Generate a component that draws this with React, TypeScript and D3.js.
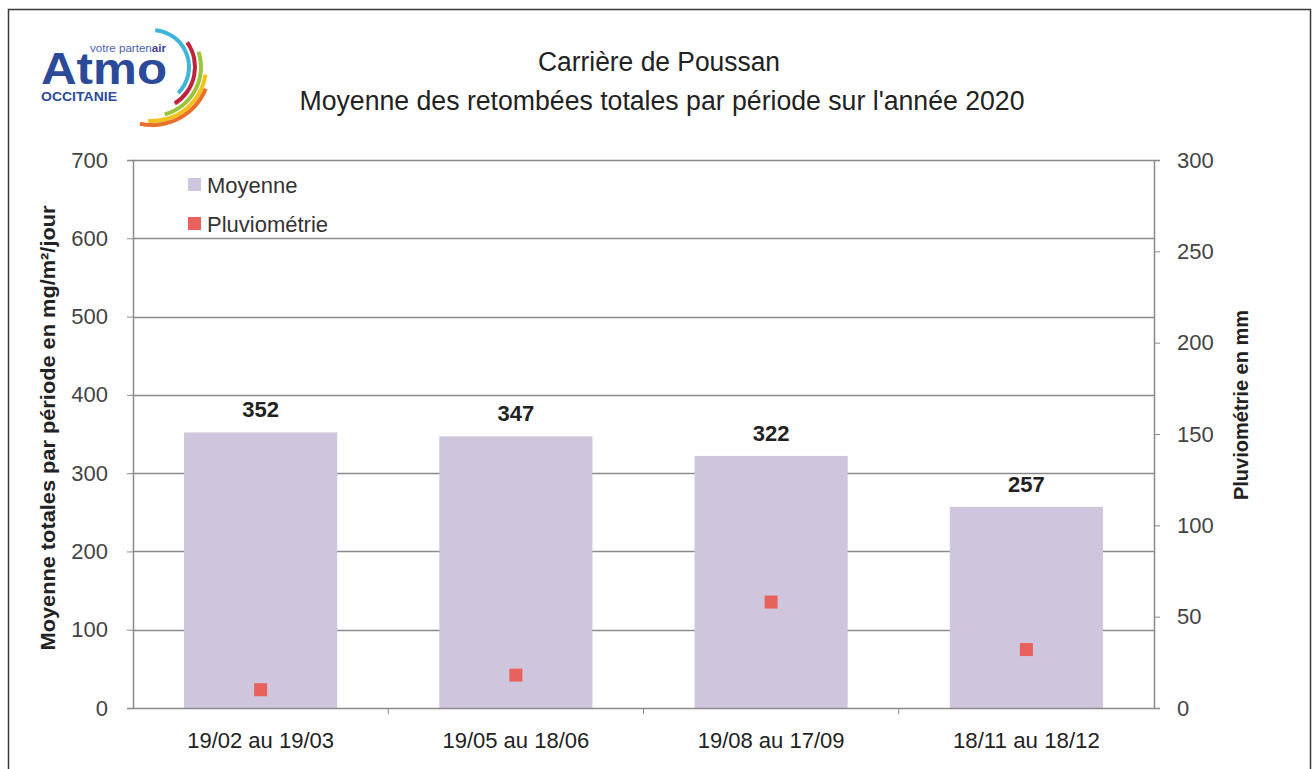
import React, { useEffect, useRef } from 'react';
import * as d3 from 'd3';

const periods = ['19/02 au 19/03', '19/05 au 18/06', '19/08 au 17/09', '18/11 au 18/12'];
const moyenne = [352, 347, 322, 257];
const pluvio = [10, 18, 58, 32];
const leftTicks = [0, 100, 200, 300, 400, 500, 600, 700];
const rightTicks = [0, 50, 100, 150, 200, 250, 300];

const W = 1314;
const H = 769;
const FONT = '"Liberation Sans", Arial, sans-serif';
const BAR_COLOR = '#cfc5dc';
const PLUVIO_COLOR = '#e9615c';

export default function App() {
  const ref = useRef<SVGSVGElement>(null);

  useEffect(() => {
    const svg = d3.select(ref.current);
    svg.selectAll('*').remove();

    const margin = { left: 133, right: 160, top: 160, bottom: 61 };
    const innerW = W - margin.left - margin.right;
    const innerH = H - margin.top - margin.bottom;

    // outer frame
    svg.append('rect').attr('width', W).attr('height', H).attr('fill', '#fff');
    svg.append('path')
      .attr('d', `M8.5,${H} V9.5 H1310.5 V${H}`)
      .attr('fill', 'none').attr('stroke', '#3a3a3a').attr('stroke-width', 1.5);

    // logo
    const logo = svg.append('g');
    logo.append('text').attr('x', 41).attr('y', 84).text('Atmo')
      .attr('font-family', FONT).attr('font-weight', 'bold').attr('font-size', 45)
      .attr('fill', '#2b4a9a').attr('textLength', 126).attr('lengthAdjust', 'spacingAndGlyphs');
    const tag = logo.append('text').attr('x', 90).attr('y', 52)
      .attr('font-family', FONT).attr('font-size', 10).attr('fill', '#4a63b0')
      .attr('textLength', 76).attr('lengthAdjust', 'spacingAndGlyphs');
    tag.append('tspan').text('votre parten');
    tag.append('tspan').attr('font-weight', 'bold').attr('fill', '#3b3f9a').text('air');
    logo.append('text').attr('x', 41).attr('y', 101).text('OCCITANIE')
      .attr('font-family', FONT).attr('font-weight', 'bold').attr('font-size', 13).attr('fill', '#2b4a9a')
      .attr('textLength', 76).attr('lengthAdjust', 'spacingAndGlyphs');
    const arcs = [
      { c: '#3fb6d9', r: 37, a0: 5, a1: 135 },
      { c: '#c0243c', r: 43, a0: 55, a1: 148 },
      { c: '#9cc43a', r: 49, a0: 72, a1: 165 },
      { c: '#f2c21b', r: 54, a0: 98, a1: 184 },
      { c: '#e8702a', r: 58, a0: 112, a1: 192 }
    ];
    const arcGen = d3.arc();
    arcs.forEach(a => {
      logo.append('path')
        .attr('transform', 'translate(152,67)')
        .attr('d', arcGen({ innerRadius: a.r - 2, outerRadius: a.r + 2, startAngle: a.a0 * Math.PI / 180, endAngle: a.a1 * Math.PI / 180 } as any) as string)
        .attr('fill', a.c);
    });

    // titles
    const title = svg.append('g').attr('font-family', FONT).attr('fill', '#222').attr('text-anchor', 'middle');
    title.append('text').attr('x', 659).attr('y', 71).attr('font-size', 27)
      .attr('textLength', 242).attr('lengthAdjust', 'spacingAndGlyphs').text('Carrière de Poussan');
    title.append('text').attr('x', 662).attr('y', 110).attr('font-size', 27)
      .attr('textLength', 725).attr('lengthAdjust', 'spacingAndGlyphs')
      .text("Moyenne des retombées totales par période sur l'année 2020");

    const g = svg.append('g').attr('transform', `translate(${margin.left},${margin.top})`);

    const x = d3.scaleBand().domain(periods).range([0, innerW]).paddingInner(0.4).paddingOuter(0.2);
    const xOuter = d3.scaleBand().domain(periods).range([0, innerW]);
    const yL = d3.scaleLinear().domain([0, 700]).range([innerH, 0]);
    const yR = d3.scaleLinear().domain([0, 300]).range([innerH, 0]);

    // gridlines
    g.append('g').selectAll('line').data(leftTicks.slice(1)).join('line')
      .attr('x1', 0).attr('x2', innerW)
      .attr('y1', d => Math.round(yL(d)) + 0.5).attr('y2', d => Math.round(yL(d)) + 0.5)
      .attr('stroke', '#8a8a8a').attr('stroke-width', 1.5);

    // bars
    g.append('g').selectAll('rect').data(moyenne).join('rect')
      .attr('x', (d, i) => x(periods[i])!)
      .attr('width', x.bandwidth())
      .attr('y', d => yL(d))
      .attr('height', d => innerH - yL(d))
      .attr('fill', BAR_COLOR);

    // value labels
    g.append('g').selectAll('text').data(moyenne).join('text')
      .attr('x', (d, i) => x(periods[i])! + x.bandwidth() / 2)
      .attr('y', d => yL(d) - 15)
      .attr('text-anchor', 'middle')
      .attr('font-family', FONT).attr('font-weight', 'bold').attr('font-size', 22).attr('fill', '#222')
      .text(d => d);

    // pluvio markers
    g.append('g').selectAll('rect').data(pluvio).join('rect')
      .attr('x', (d, i) => x(periods[i])! + x.bandwidth() / 2 - 6.5)
      .attr('y', d => yR(d) - 6.5)
      .attr('width', 13).attr('height', 13)
      .attr('fill', PLUVIO_COLOR);

    // left axis
    const axL = g.append('g').call(d3.axisLeft(yL).tickValues(leftTicks).tickSize(6).tickPadding(19));
    axL.select('.domain').attr('stroke', '#8a8a8a').attr('stroke-width', 1.5);
    axL.selectAll('line').attr('stroke', '#8a8a8a');
    axL.selectAll('text').attr('font-family', FONT).attr('font-size', 22).attr('fill', '#444');

    // right axis
    const axR = g.append('g').attr('transform', `translate(${innerW},0)`)
      .call(d3.axisRight(yR).tickValues(rightTicks).tickSize(6).tickPadding(17));
    axR.select('.domain').attr('stroke', '#8a8a8a').attr('stroke-width', 1.5);
    axR.selectAll('line').attr('stroke', '#8a8a8a');
    axR.selectAll('text').attr('font-family', FONT).attr('font-size', 22).attr('fill', '#444');

    // bottom axis
    const axB = g.append('g').attr('transform', `translate(0,${innerH})`)
      .call(d3.axisBottom(xOuter).tickSize(0).tickPadding(24));
    axB.select('.domain').attr('stroke', '#8a8a8a').attr('stroke-width', 1.5);
    axB.selectAll('text').attr('font-family', FONT).attr('font-size', 22).attr('fill', '#222')
      .attr('textLength', 147).attr('lengthAdjust', 'spacingAndGlyphs');
    axB.selectAll('line.sep').data(periods.slice(1)).join('line')
      .attr('class', 'sep')
      .attr('x1', d => xOuter(d)!).attr('x2', d => xOuter(d)!)
      .attr('y1', 0).attr('y2', 6).attr('stroke', '#8a8a8a');

    // axis titles
    svg.append('text')
      .attr('transform', `translate(55,${428}) rotate(-90)`)
      .attr('text-anchor', 'middle').attr('font-family', FONT).attr('font-weight', 'bold')
      .attr('font-size', 21).attr('fill', '#222')
      .attr('textLength', 445).attr('lengthAdjust', 'spacingAndGlyphs')
      .text('Moyenne totales par période en mg/m²/jour');
    svg.append('text')
      .attr('transform', `translate(1248,${405}) rotate(-90)`)
      .attr('text-anchor', 'middle').attr('font-family', FONT).attr('font-weight', 'bold')
      .attr('font-size', 20).attr('fill', '#222')
      .text('Pluviométrie en mm');

    // legend
    const legend = svg.append('g').attr('font-family', FONT).attr('font-size', 22).attr('fill', '#333');
    const items = [{ label: 'Moyenne', color: BAR_COLOR }, { label: 'Pluviométrie', color: PLUVIO_COLOR }];
    items.forEach((it, i) => {
      legend.append('rect').attr('x', 188).attr('y', 178 + i * 39).attr('width', 13).attr('height', 13).attr('fill', it.color);
      legend.append('text').attr('x', 207).attr('y', 193 + i * 39).text(it.label);
    });
  }, []);

  return (
    <svg ref={ref} width={W} height={H} style={{ position: 'absolute', left: 0, top: 0 }} />
  );
}
